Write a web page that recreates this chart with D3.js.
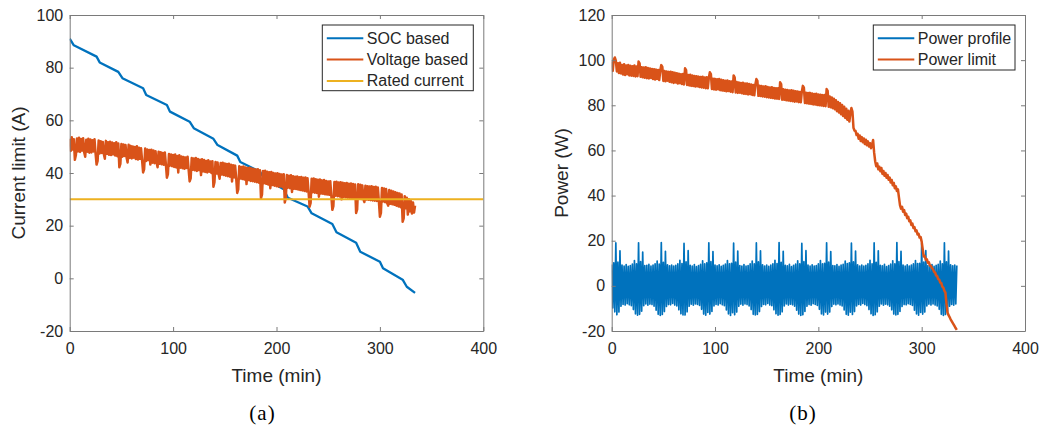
<!DOCTYPE html>
<html lang="en">
<head>
<meta charset="utf-8">
<title>Current limit and power limit</title>
<script src="https://cdn.jsdelivr.net/npm/d3@7"></script>
<style>
body { margin: 0; background: #fff; }
</style>
</head>
<body>
<script>

var w = 1043;
var h = 430;
var sampleStep = 1; // minutes between logged samples

var timeTicks = [0, 100, 200, 300, 400];
var currentTicks = [-20, 0, 20, 40, 60, 80, 100];
var powerTicks = [-20, 0, 20, 40, 60, 80, 100, 120];

// (a) SOC based current limit, read at its step corners
var socTime = [0, 4, 26, 29, 47, 51, 71, 74, 94, 97, 116, 120, 139, 143, 162, 165,
               184, 188, 207, 211, 230, 234, 254, 258, 277, 281, 300, 303, 322, 326, 334];
var socValue = [91, 88.5, 84.2, 82.0, 78.4, 76.0, 72.2, 69.6, 65.8, 63.3, 59.5, 57.0, 53.0, 50.6, 46.6, 44.2,
                40.5, 38.0, 33.8, 30.6, 27.3, 24.7, 20.6, 17.5, 13.5, 10.1, 6.3, 3.8, -0.5, -3.2, -5.5];

// (a) voltage based current limit, one sample per minute
var voltageLimit = [
  53.0, 48.4, 53.6, 48.9, 52.8, 45.0, 46.8, 53.1, 48.2, 53.4,
  48.0, 52.9, 48.5, 53.2, 47.9, 46.2, 52.6, 48.1, 53.0, 47.7,
  52.7, 47.8, 52.4, 48.2, 52.8, 47.5, 43.2, 44.6, 52.3, 47.4,
  52.1, 47.6, 51.8, 47.2, 45.4, 52.2, 47.3, 51.7, 46.9, 51.9,
  46.8, 51.6, 47.1, 51.3, 46.6, 51.7, 46.4, 51.2, 42.2, 43.5,
  51.0, 46.2, 50.8, 46.5, 50.6, 45.9, 44.0, 50.7, 45.7, 50.3,
  45.5, 50.1, 45.8, 49.9, 45.3, 50.2, 45.1, 49.6, 45.4, 49.4,
  44.8, 40.2, 41.5, 49.3, 44.6, 48.9, 44.9, 48.7, 43.2, 48.8,
  43.9, 48.5, 43.7, 48.3, 44.0, 42.2, 48.1, 43.5, 47.9, 43.3,
  47.6, 43.1, 47.8, 43.4, 38.2, 39.6, 47.2, 42.8, 47.0, 42.6,
  46.8, 42.3, 47.0, 42.1, 46.5, 40.2, 46.7, 42.0, 46.3, 41.8,
  46.1, 41.6, 45.9, 41.9, 46.2, 41.4, 36.8, 38.0, 45.7, 41.2,
  45.5, 41.0, 45.7, 40.8, 45.3, 41.1, 45.0, 39.2, 45.2, 40.6,
  44.9, 40.4, 44.6, 40.2, 44.8, 40.5, 44.4, 40.0, 44.5, 34.8,
  36.5, 44.2, 39.8, 44.0, 39.6, 37.8, 43.8, 39.4, 43.9, 39.2,
  43.6, 39.0, 43.4, 38.8, 43.5, 38.6, 43.1, 36.8, 42.9, 38.3,
  42.8, 38.1, 32.4, 33.8, 42.6, 37.9, 42.3, 37.7, 42.5, 37.5,
  42.1, 35.8, 41.9, 37.3, 42.0, 37.0, 41.7, 36.9, 41.5, 36.7,
  41.3, 36.5, 41.4, 36.3, 41.0, 30.4, 31.9, 40.8, 36.1, 40.9,
  35.9, 40.5, 35.6, 40.3, 34.2, 40.4, 35.4, 40.0, 35.2, 39.8,
  35.0, 39.9, 34.8, 39.6, 34.9, 39.4, 34.6, 39.5, 28.8, 30.4,
  39.2, 34.4, 39.0, 34.2, 39.1, 32.8, 38.8, 34.0, 38.6, 33.9,
  38.7, 33.7, 38.4, 33.5, 38.5, 33.4, 38.2, 33.2, 38.3, 33.0,
  38.0, 32.9, 27.2, 28.6, 37.8, 32.7, 37.9, 32.5, 37.6, 32.4,
  37.4, 31.0, 37.5, 32.2, 37.2, 32.1, 37.3, 31.9, 37.0, 31.8,
  36.8, 31.7, 36.9, 31.5, 26.0, 27.4, 36.6, 31.4, 36.7, 31.2,
  36.4, 31.1, 36.5, 30.0, 36.3, 30.9, 36.1, 30.8, 36.2, 30.6,
  35.9, 30.5, 36.0, 30.4, 35.8, 30.3, 35.6, 24.8, 26.2, 35.7,
  30.2, 35.5, 30.1, 35.3, 30.0, 29.0, 35.2, 29.9, 35.0, 29.8,
  34.9, 29.7, 35.0, 29.6, 34.7, 29.5, 34.8, 29.4, 34.5, 29.3,
  23.4, 24.8, 34.3, 29.2, 34.1, 28.9, 33.9, 28.6, 27.6, 33.5,
  28.3, 33.3, 28.1, 33.0, 27.9, 32.7, 27.6, 32.4, 27.3, 32.2,
  27.0, 31.8, 21.5, 22.8, 31.2, 26.6, 30.6, 24.2, 30.0, 25.4,
  29.3, 24.6, 28.8, 25.0, 27.6
];

var ratedCurrent = 30;

// (b) power profile, one sample per minute
var powerProfile = [
  9.5, -9.8, 10.2, -11.5,
  19.0, -12.8, 10.5, -11.6, 15.5, -9.0, 9.2, -8.2, 8.8, -8.5, 9.4, -7.9, 8.6, -8.4, 9.0, -8.8, 9.6, -10.5, 11.2, -12.4, 9.8, -13.0,
  19.1, -12.6, 10.8, -11.2, 15.0, -8.8, 9.0, -8.0, 9.1, -8.6, 9.5, -8.1, 8.7, -8.3, 9.2, -9.0, 9.8, -10.8, 11.0, -12.6, 9.6, -13.1,
  19.2, -12.7, 10.4, -11.4, 15.3, -9.1, 9.3, -8.3, 8.9, -8.4, 9.2, -7.8, 8.8, -8.5, 9.1, -8.9, 9.7, -10.6, 11.3, -12.3, 9.9, -12.9,
  18.8, -12.9, 10.6, -11.5, 15.6, -9.0, 9.1, -8.1, 8.7, -8.6, 9.4, -8.0, 8.5, -8.2, 9.0, -8.7, 9.5, -10.4, 11.1, -12.5, 9.7, -13.0, 10.2, -11.8,
  19.1, -12.5, 10.7, -11.3, 15.2, -8.9, 9.2, -8.2, 8.9, -8.5, 9.3, -7.9, 8.6, -8.4, 9.1, -8.8, 9.6, -10.7, 11.2, -12.4, 9.8, -13.1, 10.0, -11.9,
  18.9, -12.8, 10.5, -11.6, 15.4, -9.0, 9.0, -8.1, 8.8, -8.6, 9.4, -8.0, 8.7, -8.3, 9.0, -8.9, 9.7, -10.5, 11.0, -12.6, 9.7, -12.9,
  19.0, -12.6, 10.6, -11.4, 15.5, -9.1, 9.3, -8.2, 8.8, -8.4, 9.2, -7.8, 8.6, -8.5, 9.2, -8.8, 9.8, -10.6, 11.3, -12.3, 9.9, -13.0,
  19.2, -12.7, 10.4, -11.5, 15.3, -8.9, 9.1, -8.0, 8.9, -8.5, 9.5, -8.1, 8.5, -8.4, 9.1, -9.0, 9.6, -10.8, 11.1, -12.5, 9.8, -13.1,
  18.8, -12.8, 10.7, -11.3, 15.6, -9.0, 9.2, -8.3, 8.7, -8.6, 9.3, -7.9, 8.8, -8.2, 9.0, -8.7, 9.7, -10.4, 11.2, -12.4, 9.7, -12.9, 10.0, -11.6,
  19.1, -12.5, 10.5, -11.6, 15.2, -9.1, 9.0, -8.1, 8.9, -8.4, 9.4, -8.0, 8.6, -8.5, 9.2, -8.9, 9.5, -10.7, 11.0, -12.6, 9.9, -13.0, 10.2, -11.7,
  18.9, -12.7, 10.6, -11.4, 15.4, -8.9, 9.3, -8.2, 8.8, -8.5, 9.2, -7.8, 8.7, -8.3, 9.1, -8.8, 9.8, -10.5, 11.3, -12.3, 9.8, -13.1,
  19.0, -12.8, 10.4, -11.5, 15.5, -9.0, 9.1, -8.0, 8.9, -8.6, 9.5, -8.1, 8.5, -8.4, 9.0, -9.0, 9.6, -10.6, 11.1, -12.5, 9.7, -12.9,
  19.2, -12.6, 10.7, -11.3, 15.3, -9.1, 9.2, -8.3, 8.7, -8.4, 9.3, -7.9, 8.8, -8.2, 9.2, -8.7, 9.7, -10.8, 11.2, -12.4, 9.9, -13.0, 10.0, -11.8,
  18.8, -12.5, 10.5, -11.6, 15.6, -8.9, 9.0, -8.1, 8.8, -8.5, 9.4, -8.0, 8.6, -8.5, 9.1, -8.9, 9.5, -10.4, 11.0, -12.6, 9.8, -13.1,
  19.1, -12.7, 10.6, -11.4, 15.4, -9.0, 9.3, -8.2, 8.9, -8.6, 9.2, -8.0, 9.0
];

// (b) power limit, one sample per minute
var powerLimit = [
  99.4, 95.2, 100.2, 101.2, 99.8, 95.0, 98.6, 94.3, 98.8, 94.1,
  97.9, 93.6, 98.2, 93.4, 97.6, 93.8, 97.8, 93.2, 97.5, 93.1,
  97.3, 93.0, 97.6, 92.8, 97.2, 92.9, 99.4, 98.6, 92.6, 96.9,
  92.4, 96.7, 92.2, 96.8, 92.0, 96.5, 91.9, 96.3, 92.1, 96.1,
  91.6, 96.0, 91.4, 95.8, 91.7, 95.6, 91.2, 95.4, 97.8, 97.0,
  90.8, 95.2, 90.6, 95.0, 90.9, 94.8, 90.4, 94.9, 90.2, 94.6,
  89.9, 94.4, 90.1, 94.2, 89.6, 94.0, 89.8, 93.8, 89.4, 93.9,
  89.2, 96.4, 95.6, 89.0, 93.4, 88.8, 93.5, 88.6, 93.2, 88.5,
  93.0, 88.3, 92.9, 88.4, 92.7, 88.1, 92.5, 87.9, 92.6, 87.8,
  92.3, 87.6, 92.4, 87.5, 92.1, 94.6, 93.8, 87.2, 91.8, 87.0,
  91.7, 86.9, 91.5, 87.1, 91.6, 86.7, 91.3, 86.5, 91.1, 86.4,
  90.9, 86.2, 91.0, 86.3, 90.7, 86.0, 90.5, 85.8, 93.2, 92.4,
  85.7, 90.3, 85.5, 90.1, 85.6, 89.9, 85.3, 90.0, 85.1, 89.7,
  85.0, 89.6, 84.8, 89.4, 84.9, 89.2, 84.6, 89.0, 84.4, 89.1,
  91.6, 90.8, 84.2, 88.7, 84.1, 88.5, 83.9, 88.3, 83.8, 88.4,
  83.6, 88.1, 83.5, 87.9, 83.3, 88.0, 83.2, 87.7, 83.0, 87.5,
  82.9, 87.6, 82.8, 90.2, 89.4, 82.5, 87.1, 82.4, 86.9, 82.2,
  86.8, 82.1, 86.6, 81.9, 86.7, 81.8, 86.4, 81.6, 86.2, 81.7,
  86.1, 81.4, 85.9, 81.3, 86.0, 88.6, 87.8, 81.0, 85.6, 80.9,
  85.4, 80.7, 85.5, 80.6, 85.2, 80.4, 85.0, 80.3, 85.1, 80.1,
  84.8, 80.0, 84.7, 79.9, 84.5, 79.7, 84.6, 79.6, 87.2, 86.4,
  79.4, 83.9, 79.1, 83.5, 78.7, 82.9, 78.2, 82.2, 77.4, 81.5,
  76.8, 80.9, 76.0, 80.1, 75.2, 79.4, 74.4, 78.5, 73.6, 77.6,
  72.8, 76.4, 78.8, 77.2, 70.0, 68.8, 68.6, 66.8, 67.4, 65.2,
  66.6, 64.2, 65.9, 63.6, 65.3, 62.8, 64.7, 62.3, 64.0, 61.7,
  63.2, 61.0, 62.5, 64.6, 59.0, 55.2, 53.0, 54.2, 51.6, 52.8,
  50.8, 52.2, 49.6, 50.9, 48.8, 50.0, 47.9, 49.1, 47.0, 48.0,
  45.8, 46.9, 44.6, 45.6, 43.2, 44.1, 42.0, 42.8, 39.2, 35.8,
  34.2, 35.0, 32.8, 33.6, 31.4, 32.0, 30.0, 30.6, 28.6, 29.0,
  27.0, 27.6, 25.6, 26.0, 24.2, 24.6, 22.8, 23.1, 21.4, 21.6,
  19.6, 16.2, 13.0, 13.2, 11.6, 11.8, 10.3, 10.4, 9.0, 8.8,
  7.8, 7.4, 6.2, 5.9, 4.6, 4.3, 3.0, 2.8, 1.4, 1.2,
  -0.4, -0.8, -2.2, -3.0, -8.0, -11.8, -13.0, -13.8, -14.8, -15.6,
  -16.4, -17.2, -18.0, -18.8, -19.5
];

var blue = "#0072BD";
var orange = "#D95319";
var yellow = "#EDB120";
var textColor = "#262626";
var axisColor = "#7a7a7a";
var sansFont = "'Liberation Sans', Arial, Helvetica, sans-serif";

var svg = d3.select("body")
    .append("svg")
    .attr("width", w)
    .attr("height", h);

function sampled(values) {
    return values.map(function(v, i) { return [i * sampleStep, v]; });
}

function styleAxis(a) {
    a.attr("font-size", 16).attr("font-family", sansFont);
    a.selectAll("path, line").attr("stroke", axisColor);
    a.selectAll("text").attr("fill", textColor);
}

function drawPanel(p) {
    var x = d3.scaleLinear().domain([0, 400]).range([p.left, p.right]);
    var y = d3.scaleLinear().domain(p.yDomain).range([p.bottom, p.top]);
    var g = svg.append("g");
    var plain = function(d) { return String(d); };

    g.append("clipPath")
        .attr("id", p.id + "-clip")
        .append("rect")
        .attr("x", p.left)
        .attr("y", p.top)
        .attr("width", p.right - p.left)
        .attr("height", p.bottom - p.top);

    var line = d3.line()
        .x(function(d) { return x(d[0]); })
        .y(function(d) { return y(d[1]); });

    var plot = g.append("g").attr("clip-path", "url(#" + p.id + "-clip)");
    p.series.forEach(function(s) {
        plot.append("path")
            .datum(s.data)
            .attr("d", line)
            .attr("fill", "none")
            .attr("stroke", s.color)
            .attr("stroke-width", s.width)
            .attr("stroke-linejoin", "round");
    });

    // inward ticks on all four sides, like the original
    g.append("g")
        .attr("transform", "translate(0," + p.bottom + ")")
        .call(d3.axisBottom(x).tickValues(timeTicks).tickFormat(plain)
            .tickSizeInner(-4).tickSizeOuter(0).tickPadding(12))
        .call(styleAxis);
    g.append("g")
        .attr("transform", "translate(0," + p.top + ")")
        .call(d3.axisTop(x).tickValues(timeTicks).tickFormat("")
            .tickSizeInner(-4).tickSizeOuter(0))
        .call(styleAxis);
    g.append("g")
        .attr("transform", "translate(" + p.left + ",0)")
        .call(d3.axisLeft(y).tickValues(p.yTicks).tickFormat(plain)
            .tickSizeInner(-4).tickSizeOuter(0).tickPadding(6.5))
        .call(styleAxis);
    g.append("g")
        .attr("transform", "translate(" + p.right + ",0)")
        .call(d3.axisRight(y).tickValues(p.yTicks).tickFormat("")
            .tickSizeInner(-4).tickSizeOuter(0))
        .call(styleAxis);

    var midX = (p.left + p.right) / 2;
    g.append("text")
        .attr("x", midX)
        .attr("y", 381.5)
        .attr("text-anchor", "middle")
        .attr("font-family", sansFont)
        .attr("font-size", 19)
        .attr("fill", textColor)
        .text("Time (min)");

    g.append("text")
        .attr("transform", "translate(" + p.yLabelX + "," + ((p.top + p.bottom) / 2) + ") rotate(-90)")
        .attr("text-anchor", "middle")
        .attr("font-family", sansFont)
        .attr("font-size", 19)
        .attr("fill", textColor)
        .text(p.yLabel);

    g.append("text")
        .attr("x", p.captionX)
        .attr("y", 420)
        .attr("text-anchor", "middle")
        .attr("font-family", "'Liberation Serif', 'DejaVu Serif', serif")
        .attr("font-size", 21)
        .attr("letter-spacing", 1)
        .attr("fill", "#000")
        .text(p.caption);

    // legend
    var lg = p.legend;
    g.append("rect")
        .attr("x", lg.x)
        .attr("y", lg.y)
        .attr("width", lg.width)
        .attr("height", lg.height)
        .attr("fill", "#fff")
        .attr("stroke", "#262626")
        .attr("stroke-width", 1);
    p.series.forEach(function(s, i) {
        var ry = lg.y + 13.3 + i * 21.3;
        g.append("line")
            .attr("x1", lg.x + 4.5)
            .attr("x2", lg.x + 41)
            .attr("y1", ry)
            .attr("y2", ry)
            .attr("stroke", s.color)
            .attr("stroke-width", 2);
        g.append("text")
            .attr("x", lg.x + 44.5)
            .attr("y", ry + 5.5)
            .attr("font-family", sansFont)
            .attr("font-size", 16)
            .attr("fill", textColor)
            .text(s.name);
    });
}

drawPanel({
    id: "a",
    left: 69.7, right: 483.3, top: 15, bottom: 331,
    yDomain: [-20, 100],
    yTicks: currentTicks,
    yLabel: "Current limit (A)",
    yLabelX: 25,
    caption: "(a)",
    captionX: 262.5,
    legend: { x: 322.3, y: 25, width: 151, height: 65.7 },
    series: [
        { name: "SOC based", color: blue, width: 2.3,
          data: socTime.map(function(t, i) { return [t, socValue[i]]; }) },
        { name: "Voltage based", color: orange, width: 2.5, data: sampled(voltageLimit) },
        { name: "Rated current", color: yellow, width: 2, data: [[0, ratedCurrent], [400, ratedCurrent]] }
    ]
});

drawPanel({
    id: "b",
    left: 611.7, right: 1025, top: 15, bottom: 331,
    yDomain: [-20, 120],
    yTicks: powerTicks,
    yLabel: "Power (W)",
    yLabelX: 568.4,
    caption: "(b)",
    captionX: 803,
    legend: { x: 873.3, y: 25, width: 141.7, height: 45 },
    series: [
        { name: "Power profile", color: blue, width: 1.7, data: sampled(powerProfile) },
        { name: "Power limit", color: orange, width: 2.5, data: sampled(powerLimit) }
    ]
});
</script>
</body>
</html>
